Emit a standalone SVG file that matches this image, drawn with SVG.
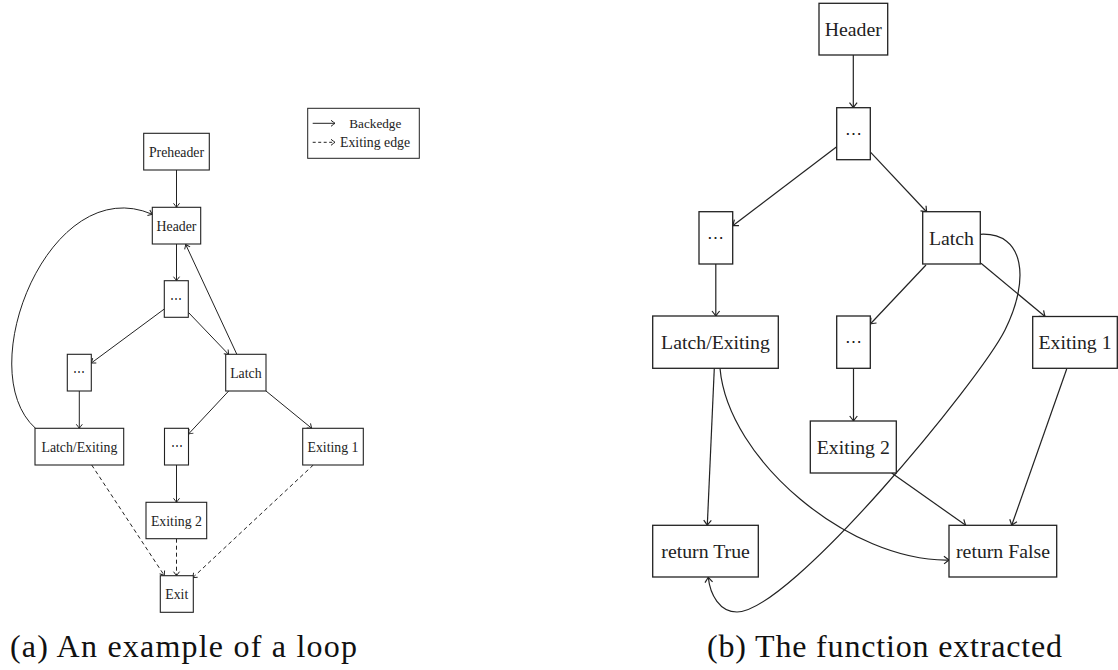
<svg xmlns="http://www.w3.org/2000/svg" width="1118" height="670" viewBox="0 0 1118 670">
<defs>
<style>
.bl{fill:#fff;stroke:#222;stroke-width:1.1}
.br{fill:#fff;stroke:#222;stroke-width:1.3}
.tl{font-family:"Liberation Serif","Times New Roman",serif;font-size:13.8px;fill:#222;text-anchor:middle}
.tr{font-family:"Liberation Serif","Times New Roman",serif;font-size:19.8px;fill:#222;text-anchor:middle}
.dl{font-family:"DejaVu Serif",serif;font-size:12px;fill:#222;text-anchor:middle}
.dr{font-family:"DejaVu Serif",serif;font-size:17px;fill:#222;text-anchor:middle}
.cap{font-family:"Liberation Serif","Times New Roman",serif;font-size:32px;fill:#111}
.el{fill:none;stroke:#222;stroke-width:1;marker-end:url(#aS)}
.ed{fill:none;stroke:#222;stroke-width:1;stroke-dasharray:4 3;marker-end:url(#aS)}
.er{fill:none;stroke:#222;stroke-width:1.2;marker-end:url(#aL)}
</style>
<marker id="aS" viewBox="-6 -5 7 10" refX="0" refY="0" markerWidth="7" markerHeight="10" orient="auto" markerUnits="userSpaceOnUse">
<path d="M-4,-3 Q-1.2,-0.8 0,0 Q-1.2,0.8 -4,3" fill="none" stroke="#222" stroke-width="1"/>
</marker>
<marker id="aL" viewBox="-7 -6 8 12" refX="0" refY="0" markerWidth="8" markerHeight="12" orient="auto" markerUnits="userSpaceOnUse">
<path d="M-5,-3.8 Q-1.5,-1 0,0 Q-1.5,1 -5,3.8" fill="none" stroke="#222" stroke-width="1.2"/>
</marker>
</defs>
<rect width="1118" height="670" fill="#fff"/>

<!-- connectors -->
<g id="connectors">
<path class="el" d="M176.5,170 L176.5,207.3"/>
<path class="el" d="M176.5,244 L176.5,280.7"/>
<path class="el" d="M164.3,309 L91.3,363"/>
<path class="el" d="M188.3,312.3 L228.7,354.5"/>
<path class="el" d="M236.7,354 L185.7,244.5"/>
<path class="el" d="M35.5,428.3 C-30,370 50,170 152.3,214.3"/>
<path class="el" d="M79.3,391 L79.3,428.3"/>
<path class="el" d="M228.7,391 L188.5,434"/>
<path class="el" d="M266,391 L311.7,428.3"/>
<path class="el" d="M176.5,465 L176.5,502.3"/>
<path class="ed" d="M91.7,465 L164.3,575.5"/>
<path class="ed" d="M176.5,538.7 L176.5,575.7"/>
<path class="ed" d="M313.3,465 L192.7,577.7"/>

<path class="er" d="M853.3,55 L853.3,107.7"/>
<path class="er" d="M836.7,146.7 L732.7,225.7"/>
<path class="er" d="M870.7,152.3 L926.7,212"/>
<path class="er" d="M715.8,264 L715.8,316"/>
<path class="er" d="M926,265 L870.3,324"/>
<path class="er" d="M981,263.3 L1045,316.5"/>
<path class="er" d="M980.3,234.3 C1025,232 1030,280 1005,330 C980,380 790,612 737,612 C720,612 710,595 708.3,577.3"/>
<path class="er" d="M714.3,368.3 L707.3,525.3"/>
<path class="er" d="M720,368.3 C728,460 850,562 949,560"/>
<path class="er" d="M853.5,368.3 L853.5,421"/>
<path class="er" d="M891.7,473 L965.7,525.3"/>
<path class="er" d="M1066.7,369 L1011.7,525.3"/>
</g>

<!-- legend -->
<g id="legend">
<rect x="307.7" y="108.3" width="111.6" height="50" fill="#fff" stroke="#222" stroke-width="1"/>
<path class="el" d="M312.7,123.3 L335,123.3"/>
<path class="ed" d="M312.7,142.3 L335,142.3" style="stroke-dasharray:3 2.5"/>
<text x="349.3" y="127.5" style="font-family:'Liberation Serif','Times New Roman',serif;font-size:13.2px;fill:#222">Backedge</text>
<text x="340" y="146.5" style="font-family:'Liberation Serif','Times New Roman',serif;font-size:13.8px;fill:#222">Exiting edge</text>
</g>

<!-- left diagram nodes -->
<g id="l-preheader"><rect class="bl" x="143.7" y="133.3" width="65.6" height="36.7"/><text class="tl" x="176.5" y="156.7">Preheader</text></g>
<g id="l-header"><rect class="bl" x="152.3" y="207.3" width="48.4" height="36.7"/><text class="tl" x="176.5" y="230.7">Header</text></g>
<g id="l-dots1"><rect class="bl" x="164.3" y="280.7" width="24" height="36.6"/><text class="dl" x="176.3" y="302.5">⋯</text></g>
<g id="l-dotsA"><rect class="bl" x="67.3" y="354.3" width="24" height="36.7"/><text class="dl" x="79.3" y="376.2">⋯</text></g>
<g id="l-latch"><rect class="bl" x="225.7" y="354.3" width="40.3" height="36.7"/><text class="tl" x="245.9" y="377.7">Latch</text></g>
<g id="l-latchexiting"><rect class="bl" x="35" y="428.3" width="88.7" height="36.7"/><text class="tl" x="79.4" y="451.7">Latch/Exiting</text></g>
<g id="l-dots2"><rect class="bl" x="164.5" y="428.3" width="24" height="36.7"/><text class="dl" x="176.5" y="450.2">⋯</text></g>
<g id="l-exiting1"><rect class="bl" x="302.7" y="428.3" width="60.6" height="36.7"/><text class="tl" x="333" y="451.7">Exiting 1</text></g>
<g id="l-exiting2"><rect class="bl" x="146" y="502.3" width="60.7" height="36.4"/><text class="tl" x="176.4" y="525.5">Exiting 2</text></g>
<g id="l-exit"><rect class="bl" x="160.3" y="575.7" width="33" height="36.6"/><text class="tl" x="176.8" y="599">Exit</text></g>

<!-- right diagram nodes -->
<g id="r-header"><rect class="br" x="819" y="3.3" width="68.7" height="51.7"/><text class="tr" x="853.3" y="36">Header</text></g>
<g id="r-dots1"><rect class="br" x="836.7" y="107.7" width="33.6" height="52"/><text class="dr" x="853.5" y="138.8">⋯</text></g>
<g id="r-dotsA"><rect class="br" x="699" y="211.7" width="33.7" height="52.3"/><text class="dr" x="715.8" y="242.9">⋯</text></g>
<g id="r-latch"><rect class="br" x="922.7" y="211.7" width="57.6" height="52.3"/><text class="tr" x="951.5" y="244.8">Latch</text></g>
<g id="r-latchexiting"><rect class="br" x="652.7" y="316" width="125.6" height="52.3"/><text class="tr" x="715.5" y="349.2">Latch/Exiting</text></g>
<g id="r-dots2"><rect class="br" x="836.7" y="316" width="33.6" height="52.3"/><text class="dr" x="853.5" y="347.3">⋯</text></g>
<g id="r-exiting1"><rect class="br" x="1032.7" y="316.5" width="84.6" height="51.8"/><text class="tr" x="1075" y="349.4">Exiting 1</text></g>
<g id="r-exiting2"><rect class="br" x="810.3" y="421" width="86" height="52"/><text class="tr" x="853.3" y="454">Exiting 2</text></g>
<g id="r-returntrue"><rect class="br" x="652.7" y="525.3" width="105.6" height="51.7"/><text class="tr" x="705.6" y="558.2">return True</text></g>
<g id="r-returnfalse"><rect class="br" x="949" y="525.3" width="107.7" height="51.7"/><text class="tr" x="1003" y="558.2">return False</text></g>

<!-- captions -->
<text class="cap" x="10" y="657" textLength="347" lengthAdjust="spacing">(a) An example of a loop</text>
<text class="cap" x="707" y="657" textLength="355" lengthAdjust="spacing">(b) The function extracted</text>
</svg>
